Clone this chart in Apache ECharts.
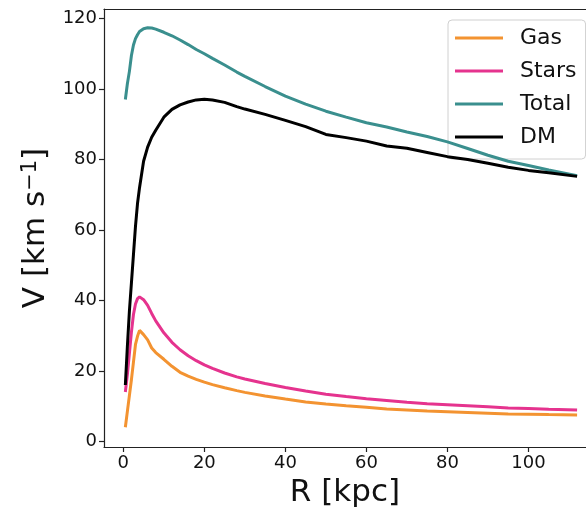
<!DOCTYPE html>
<html>
<head>
<meta charset="utf-8">
<script src="https://cdn.jsdelivr.net/npm/echarts@6/dist/echarts.min.js"></script>
<style>
html,body{margin:0;padding:0;background:#fff;}
#chart{width:586px;height:513px;}
</style>
</head>
<body>
<div id="chart"></div>
<script>
const radius = [0.5, 1, 1.5, 2, 2.5, 3, 3.5, 4, 5, 6, 7, 8, 10, 12, 14, 16, 18, 20, 22, 25, 28, 30, 35, 40, 45, 50, 55, 60, 65, 70, 75, 80, 85, 90, 95, 100, 105, 112];
const gasV = [4, 8.5, 13, 17.5, 22.5, 27.5, 29.8, 31.5, 30.3, 28.8, 26.5, 25.2, 23.3, 21.3, 19.6, 18.5, 17.6, 16.8, 16.1, 15.2, 14.4, 13.9, 12.9, 12, 11.2, 10.6, 10.1, 9.7, 9.2, 8.9, 8.6, 8.4, 8.2, 8.0, 7.8, 7.7, 7.6, 7.5];
const starsV = [14, 19, 25, 31, 36, 39, 40.5, 41, 40.2, 38.6, 36.3, 34.2, 30.8, 28.1, 26, 24.3, 22.9, 21.7, 20.7, 19.4, 18.3, 17.7, 16.4, 15.3, 14.3, 13.4, 12.7, 12.1, 11.6, 11.1, 10.7, 10.4, 10.1, 9.8, 9.5, 9.3, 9.1, 8.9];
const totalV = [97, 101.5, 105, 109.5, 112.5, 114.3, 115.4, 116.3, 117.1, 117.4, 117.3, 117, 116.1, 115.1, 113.9, 112.6, 111.2, 110, 108.7, 106.8, 104.8, 103.6, 100.7, 98, 95.7, 93.7, 92, 90.4, 89.2, 87.8, 86.5, 85, 83.1, 81.2, 79.5, 78.3, 77, 75.4];
const dmV = [16, 27, 37, 45, 53, 61, 67.5, 72, 79.5, 83.5, 86.3, 88.3, 92, 94.2, 95.5, 96.3, 96.9, 97.1, 96.9, 96.2, 95, 94.3, 92.8, 91.1, 89.3, 87.1, 86.2, 85.2, 83.8, 83.2, 82, 80.8, 80, 78.9, 77.8, 76.9, 76.2, 75.2];
const xTicks = [0, 20, 40, 60, 80, 100];
const yTicks = [0, 20, 40, 60, 80, 100, 120];
const seriesNames = ['Gas', 'Stars', 'Total', 'DM'];
const seriesColors = ['#f39331', '#e5338e', '#3a8f8e', '#000000'];
const seriesValues = [gasV, starsV, totalV, dmV];

const font = 'DejaVu Sans';
const chart = echarts.init(document.getElementById('chart'), null, {renderer: 'canvas'});
const axisColor = '#222';
const xMin = -4.77, xMax = 114.2;
chart.setOption({
  animation: false,
  backgroundColor: '#fff',
  grid: {left: 104, top: 9, width: 482, height: 439, show: false, containLabel: false},
  xAxis: [{
    type: 'value', min: xMin, max: xMax,
    name: 'R [kpc]', nameLocation: 'middle', nameGap: 30,
    nameTextStyle: {fontFamily: font, fontSize: 31, color: '#111', verticalAlign: 'top'},
    axisLine: {show: true, onZero: false, lineStyle: {color: axisColor, width: 1.2}},
    axisTick: {show: true, length: 5, customValues: xTicks, lineStyle: {color: axisColor, width: 1.2}},
    axisLabel: {customValues: xTicks, fontFamily: font, fontSize: 18, color: '#111', margin: 7},
    splitLine: {show: false}
  }, {
    type: 'value', position: 'top', min: xMin, max: xMax,
    axisLine: {show: true, onZero: false, lineStyle: {color: axisColor, width: 1.2}},
    axisTick: {show: false}, axisLabel: {show: false}, splitLine: {show: false}
  }],
  yAxis: {
    type: 'value', min: -1.6, max: 122.7,
    name: '{a|V [km s}{s|−1}{a|]}', nameLocation: 'middle', nameGap: 45, nameRotate: 90,
    nameTextStyle: {fontFamily: font, fontSize: 31, color: '#111',
      rich: {a: {fontFamily: font, fontSize: 31, color: '#111'}, s: {fontFamily: font, fontSize: 21, color: '#111', verticalAlign: 'top', padding: [0, 0, 12, 0]}}},
    axisLine: {show: true, onZero: false, lineStyle: {color: axisColor, width: 1.2}},
    axisTick: {show: true, length: 5, customValues: yTicks, lineStyle: {color: axisColor, width: 1.2}},
    axisLabel: {customValues: yTicks, fontFamily: font, fontSize: 18, color: '#111', margin: 7},
    splitLine: {show: false}
  },
  legend: {
    orient: 'vertical', left: 448, top: 20,
    padding: [7, 9, 11, 7],
    itemWidth: 48, itemHeight: 3, itemGap: 11,
    icon: 'rect',
    backgroundColor: 'rgba(255,255,255,0.8)',
    borderColor: '#d0d0d0', borderWidth: 1, borderRadius: 4,
    textStyle: {fontFamily: font, fontSize: 22, color: '#111', padding: [0, 0, 0, 12]},
    data: seriesNames
  },
  series: seriesNames.map((n, i) => ({
    name: n, type: 'line', showSymbol: false, symbol: 'none',
    xAxisIndex: 0,
    data: radius.map((r, j) => [r, seriesValues[i][j]]),
    lineStyle: {color: seriesColors[i], width: 3},
    itemStyle: {color: seriesColors[i]},
    z: 2 + i
  }))
});
</script>
</body>
</html>
